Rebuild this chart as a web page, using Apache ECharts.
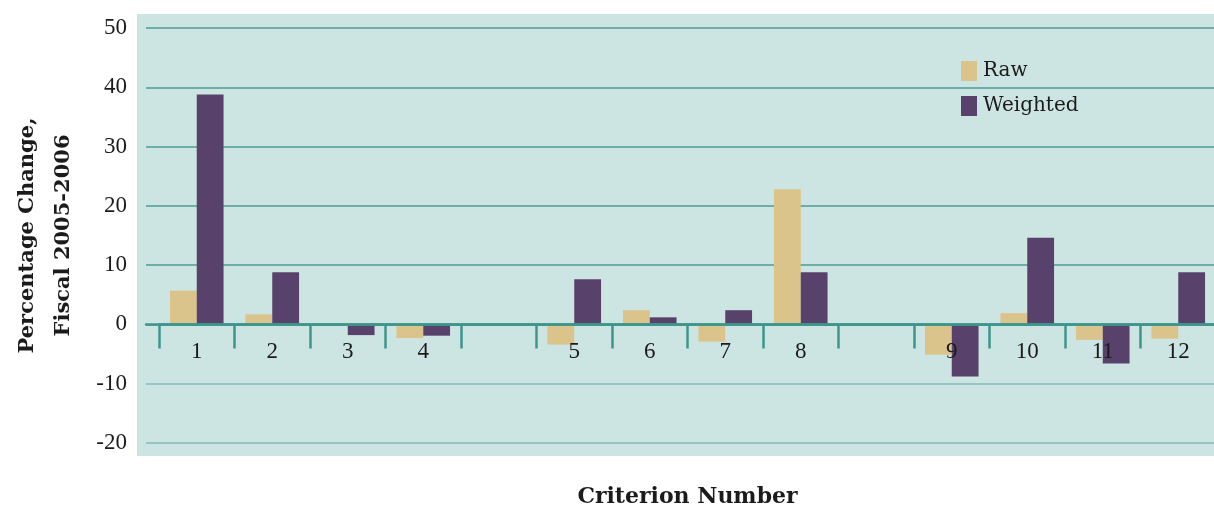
<!DOCTYPE html>
<html>
<head>
<meta charset="utf-8">
<script src="https://cdn.jsdelivr.net/npm/echarts@6/dist/echarts.min.js"></script>
<style>
  html, body { margin: 0; padding: 0; background: #ffffff; }
  #chart { width: 1214px; height: 506px; }
</style>
</head>
<body>
<div id="chart"></div>
<script>
// Criterion labels; blank entries separate the three criterion groups
const categories = ['1', '2', '3', '4', '', '5', '6', '7', '8', '', '9', '10', '11', '12'];
// Percentage change, fiscal 2005-2006
const rawValues = [5.7, 1.7, 0, -2.3, null, -3.4, 2.4, -2.9, 22.8, null, -5.1, 1.9, -2.6, -2.4];
const weightedValues = [38.8, 8.8, -1.8, -1.9, null, 7.6, 1.2, 2.4, 8.8, null, -8.8, 14.6, -6.6, 8.8];
// Value axis range and step
const yMin = -20;
const yMax = 50;
const yStep = 10;

const FONT = "'Liberation Serif', 'DejaVu Serif', serif";
const WIDE_FONT = "'DejaVu Serif', 'Liberation Serif', serif";
const TEXT = '#1b1b1b';
const TEAL = '#3d968c';
const GRID_DARK = '#4c9d94';
const GRID_LIGHT = '#82bcb5';

// Plot frame (pixels)
const PLOT_TOP = 28;
const PLOT_BOTTOM = 63;
const CHART_H = 506;
// Offset of the zero line from the bottom edge, so the category axis sits on it
const plotH = CHART_H - PLOT_TOP - PLOT_BOTTOM;
const zeroBottom = PLOT_BOTTOM + plotH * (0 - yMin) / (yMax - yMin);

// Lighter gridlines below zero, darker at and above it
const splitColors = [];
for (let v = yMin; v <= yMax; v += yStep) splitColors.push(v < 0 ? GRID_LIGHT : GRID_DARK);

const chart = echarts.init(document.getElementById('chart'), null, { renderer: 'canvas' });

chart.setOption({
  animation: false,
  textStyle: { fontFamily: FONT, color: TEXT },
  grid: [
    // bars
    { left: 159, width: 1057, top: PLOT_TOP, bottom: PLOT_BOTTOM, outerBoundsMode: 'none', containLabel: false },
    // gridlines and value labels
    { left: 146, right: 0, top: PLOT_TOP, bottom: PLOT_BOTTOM, outerBoundsMode: 'none', containLabel: false },
    // shaded plot background
    { left: 137, right: 0, top: 14, bottom: 50, outerBoundsMode: 'none', show: true, backgroundColor: '#cde5e2', borderWidth: 0 },
    // category axis resting on the zero line
    { left: 159, width: 1057, top: PLOT_TOP, bottom: zeroBottom, outerBoundsMode: 'none', containLabel: false }
  ],
  legend: {
    orient: 'vertical',
    left: 961,
    top: 61,
    padding: 0,
    itemWidth: 16,
    itemHeight: 20,
    itemGap: 15,
    icon: 'rect',
    textStyle: { fontFamily: WIDE_FONT, fontSize: 20, color: TEXT, padding: [0, 0, 0, 1] },
    data: ['Raw', 'Weighted']
  },
  xAxis: [
    {
      gridIndex: 0,
      type: 'category',
      data: categories,
      boundaryGap: true,
      show: false
    },
    {
      gridIndex: 1,
      type: 'value',
      min: 0,
      max: 1,
      z: 5,
      axisLine: { show: true, onZero: true, lineStyle: { color: TEAL, width: 2.5 } },
      axisTick: { show: false },
      axisLabel: { show: false },
      splitLine: { show: false }
    },
    {
      gridIndex: 2,
      type: 'value',
      show: false
    },
    {
      gridIndex: 3,
      type: 'category',
      data: categories,
      boundaryGap: true,
      z: 5,
      axisLine: { show: true, onZero: false, lineStyle: { color: TEAL, width: 2.5 } },
      axisTick: { show: true, alignWithLabel: false, interval: 0, length: 24, lineStyle: { color: TEAL, width: 2.5 } },
      axisLabel: { interval: 0, margin: 16, fontFamily: FONT, fontSize: 23, color: TEXT },
      name: 'Criterion Number',
      nameLocation: 'middle',
      nameGap: 162,
      nameTextStyle: { fontFamily: WIDE_FONT, fontSize: 22, fontWeight: 'bold', color: TEXT }
    }
  ],
  yAxis: [
    {
      gridIndex: 0,
      type: 'value',
      min: yMin,
      max: yMax,
      interval: yStep,
      show: false,
      splitLine: { show: false }
    },
    {
      gridIndex: 1,
      type: 'value',
      min: yMin,
      max: yMax,
      interval: yStep,
      axisLine: { show: false },
      axisTick: { show: false },
      axisLabel: { margin: 19, fontFamily: FONT, fontSize: 23, color: TEXT },
      splitLine: { show: true, lineStyle: { color: splitColors, width: 1.5 } },
      name: 'Percentage Change,\nFiscal 2005-2006',
      nameLocation: 'middle',
      nameRotate: 90,
      nameGap: 64,
      nameTextStyle: { fontFamily: WIDE_FONT, fontSize: 21, fontWeight: 'bold', color: TEXT, lineHeight: 36, align: 'center' }
    },
    {
      gridIndex: 2,
      type: 'value',
      show: false
    },
    {
      gridIndex: 3,
      type: 'value',
      show: false
    }
  ],
  series: [
    {
      name: 'Raw',
      type: 'bar',
      xAxisIndex: 0,
      yAxisIndex: 0,
      data: rawValues,
      barGap: '0%',
      barCategoryGap: '29%',
      itemStyle: { color: '#dbc48b' }
    },
    {
      name: 'Weighted',
      type: 'bar',
      xAxisIndex: 0,
      yAxisIndex: 0,
      data: weightedValues,
      barGap: '0%',
      barCategoryGap: '29%',
      itemStyle: { color: '#58426b' }
    }
  ]
});
</script>
</body>
</html>
